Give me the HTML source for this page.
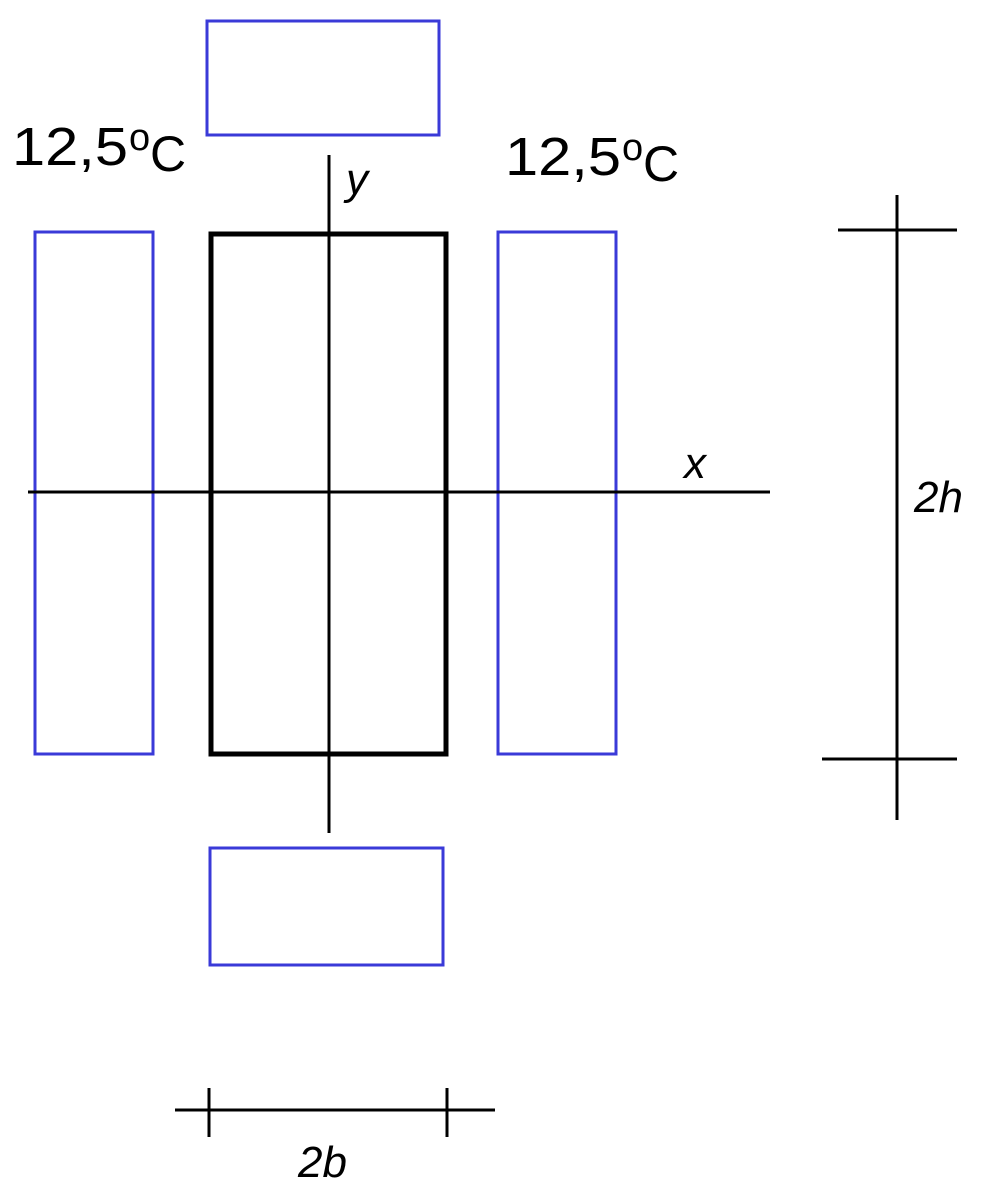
<!DOCTYPE html>
<html><head><style>body{margin:0;background:#fff}</style></head><body>
<svg width="982" height="1198" viewBox="0 0 982 1198" xmlns="http://www.w3.org/2000/svg" font-family="Liberation Sans, sans-serif">
<g fill="none" stroke="#3a3ad8" stroke-width="3">
<rect x="207" y="21" width="232" height="114"/>
<rect x="35" y="232" width="118" height="522"/>
<rect x="498" y="232" width="118" height="522"/>
<rect x="210" y="848" width="233" height="117"/>
</g>
<rect x="211" y="234" width="235" height="520" fill="none" stroke="#000" stroke-width="5"/>
<g stroke="#000" stroke-width="3">
<line x1="329" y1="155" x2="329" y2="833"/>
<line x1="28" y1="492" x2="770" y2="492"/>
<line x1="897" y1="195" x2="897" y2="820"/>
<line x1="838" y1="230" x2="957" y2="230"/>
<line x1="822" y1="759" x2="957" y2="759"/>
<line x1="175" y1="1110" x2="495" y2="1110"/>
<line x1="209" y1="1088" x2="209" y2="1137"/>
<line x1="447" y1="1088" x2="447" y2="1137"/>
</g>
<g font-size="54" fill="#000">
<text x="12" y="165" textLength="116" lengthAdjust="spacingAndGlyphs">12,5</text><text x="129" y="150" font-size="38">o</text><text x="150" y="171" font-size="50">C</text>
<text x="505" y="175" textLength="116" lengthAdjust="spacingAndGlyphs">12,5</text><text x="622" y="160" font-size="38">o</text><text x="643" y="181" font-size="50">C</text>
<text x="346" y="194" font-style="italic" font-size="44">y</text>
<text x="684" y="478" font-style="italic" font-size="44">x</text>
<text x="914" y="512" font-style="italic" font-size="44">2h</text>
<text x="298" y="1177" font-style="italic" font-size="44">2b</text>
</g>
</svg>
</body></html>
